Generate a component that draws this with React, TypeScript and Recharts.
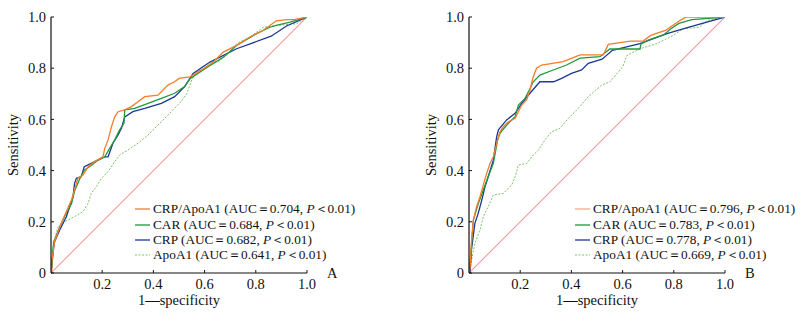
import React from "react";
import { LineChart, Line, XAxis, YAxis } from "recharts";

// ─── Data ─────────────────────────────────────────────────────────────────────

const seriesNames = ["CRP/ApoA1", "CAR", "CRP", "ApoA1"];
const xTicks = [0.2, 0.4, 0.6, 0.8, 1.0];
const yTicks = [0, 0.2, 0.4, 0.6, 0.8, 1.0];
const diagX = [0, 1];
const diagY = [0, 1];

// panel A
const aucA = ["0.704", "0.684", "0.682", "0.641"];
const ratioAx = [0, 0.003, 0.003, 0.014, 0.034, 0.06, 0.08, 0.092, 0.105, 0.125, 0.145, 0.17, 0.203, 0.21, 0.223, 0.236, 0.249, 0.262, 0.288, 0.314, 0.34, 0.366, 0.418, 0.4375, 0.457, 0.483, 0.5, 0.543, 0.595, 0.634, 0.673, 0.725, 0.777, 0.829, 0.855, 0.88, 0.92, 0.95, 1.0];
const ratioAy = [0, 0, 0.044, 0.122, 0.18, 0.24, 0.285, 0.324, 0.37, 0.383, 0.415, 0.435, 0.454, 0.487, 0.52, 0.571, 0.61, 0.63, 0.637, 0.65, 0.669, 0.689, 0.695, 0.715, 0.734, 0.747, 0.76, 0.766, 0.798, 0.824, 0.863, 0.889, 0.922, 0.948, 0.967, 0.985, 0.99, 0.99, 1.0];
const carAx = [0, 0.005, 0.01, 0.034, 0.06, 0.08, 0.092, 0.11, 0.13, 0.157, 0.184, 0.21, 0.229, 0.249, 0.268, 0.285, 0.288, 0.327, 0.379, 0.431, 0.483, 0.522, 0.543, 0.621, 0.673, 0.725, 0.803, 0.855, 0.88, 0.934, 1.0];
const carAy = [0, 0.04, 0.12, 0.18, 0.235, 0.27, 0.32, 0.363, 0.402, 0.42, 0.441, 0.454, 0.487, 0.52, 0.559, 0.585, 0.637, 0.643, 0.663, 0.682, 0.702, 0.728, 0.759, 0.811, 0.843, 0.889, 0.935, 0.96, 0.967, 0.98, 1.0];
const crpAx = [0, 0.008, 0.014, 0.034, 0.06, 0.073, 0.086, 0.092, 0.099, 0.118, 0.13, 0.157, 0.184, 0.21, 0.223, 0.242, 0.262, 0.275, 0.288, 0.32, 0.366, 0.431, 0.483, 0.522, 0.555, 0.621, 0.725, 0.86, 0.92, 1.0];
const crpAy = [0, 0.083, 0.122, 0.168, 0.22, 0.259, 0.298, 0.35, 0.37, 0.376, 0.415, 0.428, 0.441, 0.454, 0.454, 0.507, 0.539, 0.565, 0.61, 0.63, 0.643, 0.663, 0.689, 0.728, 0.779, 0.824, 0.876, 0.925, 0.965, 1.0];
const apoAx = [0, 0.008, 0.027, 0.053, 0.092, 0.125, 0.145, 0.157, 0.177, 0.197, 0.223, 0.249, 0.268, 0.3, 0.34, 0.379, 0.418, 0.457, 0.504, 0.53, 0.55, 0.569, 0.595, 0.66, 0.699, 0.725, 0.777, 0.829, 0.88, 0.96, 1.0];
const apoAy = [0, 0.103, 0.18, 0.2, 0.22, 0.24, 0.272, 0.311, 0.337, 0.37, 0.396, 0.435, 0.461, 0.48, 0.507, 0.539, 0.578, 0.617, 0.665, 0.7, 0.754, 0.786, 0.798, 0.83, 0.863, 0.896, 0.922, 0.96, 0.967, 0.974, 1.0];

// panel B
const aucB = ["0.796", "0.783", "0.778", "0.669"];
const ratioBx = [0, 0.004, 0.01, 0.017, 0.03, 0.043, 0.056, 0.069, 0.082, 0.095, 0.105, 0.115, 0.121, 0.134, 0.154, 0.18, 0.193, 0.206, 0.225, 0.238, 0.251, 0.264, 0.284, 0.368, 0.434, 0.525, 0.544, 0.63, 0.68, 0.71, 0.77, 0.798, 0.83, 0.85, 1.0];
const ratioBy = [0, 0.02, 0.129, 0.207, 0.26, 0.298, 0.344, 0.389, 0.428, 0.454, 0.493, 0.533, 0.552, 0.572, 0.591, 0.604, 0.63, 0.656, 0.676, 0.715, 0.767, 0.8, 0.8125, 0.826, 0.852, 0.852, 0.893, 0.906, 0.906, 0.928, 0.949, 0.969, 0.99, 1.0, 1.0];
const carBx = [0, 0.007, 0.017, 0.036, 0.056, 0.075, 0.095, 0.112, 0.121, 0.147, 0.18, 0.193, 0.219, 0.238, 0.251, 0.277, 0.329, 0.381, 0.434, 0.512, 0.55, 0.668, 0.672, 0.7, 0.76, 0.79, 0.82, 0.87, 1.0];
const carBy = [0, 0.077, 0.207, 0.27, 0.324, 0.376, 0.428, 0.52, 0.546, 0.578, 0.61, 0.656, 0.682, 0.72, 0.747, 0.773, 0.793, 0.8125, 0.839, 0.845, 0.875, 0.875, 0.895, 0.91, 0.93, 0.955, 0.975, 0.99, 1.0];
const crpBx = [0, 0.004, 0.01, 0.023, 0.036, 0.05, 0.0625, 0.075, 0.095, 0.108, 0.115, 0.147, 0.18, 0.206, 0.238, 0.277, 0.33, 0.362, 0.4, 0.44, 0.466, 0.52, 0.56, 0.668, 0.773, 0.863, 1.0];
const crpBy = [0, 0.002, 0.094, 0.194, 0.233, 0.285, 0.337, 0.376, 0.441, 0.532, 0.559, 0.598, 0.624, 0.663, 0.702, 0.747, 0.747, 0.76, 0.78, 0.793, 0.819, 0.835, 0.87, 0.896, 0.935, 0.961, 1.0];
const apoBx = [0, 0.004, 0.01, 0.023, 0.043, 0.056, 0.075, 0.095, 0.134, 0.167, 0.18, 0.193, 0.225, 0.251, 0.271, 0.297, 0.323, 0.355, 0.388, 0.427, 0.466, 0.518, 0.55, 0.6, 0.617, 0.668, 0.734, 0.797, 0.836, 0.9, 0.93, 1.0];
const apoBy = [0, 0.005, 0.05, 0.116, 0.168, 0.22, 0.259, 0.305, 0.311, 0.344, 0.376, 0.422, 0.428, 0.461, 0.48, 0.52, 0.552, 0.565, 0.604, 0.643, 0.689, 0.734, 0.746, 0.805, 0.85, 0.876, 0.896, 0.928, 0.954, 0.96, 0.987, 1.0];

// ─── Styles ───────────────────────────────────────────────────────────────────

const FONT = "'Liberation Serif', 'Times New Roman', serif";
const lineColors = ["#f47c2c", "#1f9a3c", "#1d3892", "#7dc266"];
const lineDash = [undefined, undefined, undefined, "2 1.5"];
const lineWidths = [1.3, 1.3, 1.3, 1];

const zip = (xs: number[], ys: number[]) => xs.map((x, i) => ({ x, y: ys[i] }));

interface PanelProps {
  left: number;
  width: number;
  plotLeft: number;
  letter: string;
  auc: string[];
  curves: { x: number; y: number }[][];
  legendLeft: number;
  legendColors: string[];
}

const PLOT = 256;
const TOP = 17;

const Panel: React.FC<PanelProps> = ({ left, width, plotLeft, letter, auc, curves, legendLeft, legendColors }) => {
  const yAxisW = 51;
  const rows = [209, 224.5, 239.5, 255];
  return (
    <div style={{ position: "absolute", left, top: 0, width, height: 314 }}>
      <LineChart
        width={width}
        height={314}
        margin={{ top: TOP, left: plotLeft - yAxisW, right: width - plotLeft - PLOT, bottom: 11 }}
      >
        <XAxis
          type="number"
          dataKey="x"
          domain={[0, 1]}
          ticks={xTicks}
          tickFormatter={(v: number) => v.toFixed(1)}
          height={30}
          allowDataOverflow
          axisLine={{ stroke: "#111", strokeWidth: 1.2 }}
          tickLine={{ stroke: "#111" }}
          tickSize={-3}
          tickMargin={9}
          tick={{ fill: "#111", fontSize: 14.5, fontFamily: FONT }}
        />
        <YAxis
          type="number"
          dataKey="y"
          domain={[0, 1]}
          ticks={yTicks}
          tickFormatter={(v: number) => (v === 0 ? "0" : v.toFixed(1))}
          width={yAxisW}
          allowDataOverflow
          axisLine={{ stroke: "#111", strokeWidth: 1.2 }}
          tickLine={{ stroke: "#111" }}
          tickSize={-3}
          tickMargin={8}
          tick={{ fill: "#111", fontSize: 14.5, fontFamily: FONT }}
        />
        {/* chance diagonal */}
        <Line
          data={zip(diagX, diagY)}
          dataKey="y"
          type="linear"
          stroke="#f29a9a"
          strokeWidth={1.1}
          dot={false}
          activeDot={false}
          isAnimationActive={false}
        />
        {/* ApoA1 drawn first so the other curves sit on top */}
        {[3, 2, 1, 0].map((i) => (
          <Line
            key={seriesNames[i]}
            data={curves[i]}
            dataKey="y"
            type="linear"
            stroke={lineColors[i]}
            strokeWidth={lineWidths[i]}
            strokeDasharray={lineDash[i]}
            dot={false}
            activeDot={false}
            isAnimationActive={false}
          />
        ))}
      </LineChart>

      {/* Legend */}
      {seriesNames.map((name, i) => (
        <div
          key={name}
          style={{
            position: "absolute",
            left: legendLeft,
            top: rows[i] - 8,
            height: 16,
            display: "flex",
            alignItems: "center",
            fontFamily: FONT,
            fontSize: 13.3,
            color: "#111",
            whiteSpace: "nowrap",
          }}
        >
          <svg width={16} height={4} style={{ marginRight: 2 }}>
            <line
              x1={0}
              x2={15}
              y1={2}
              y2={2}
              stroke={legendColors[i]}
              strokeWidth={i === 3 ? 1 : 1.3}
              strokeDasharray={lineDash[i]}
            />
          </svg>
          <span>
            {name} (AUC＝{auc[i]}, <i>P</i>＜0.01)
          </span>
        </div>
      ))}

      {/* Axis titles */}
      <div
        style={{
          position: "absolute",
          left: plotLeft - 38 - 40,
          top: 145 - 9,
          width: 80,
          textAlign: "center",
          transform: "rotate(-90deg)",
          fontFamily: FONT,
          fontSize: 14.5,
          lineHeight: "18px",
          color: "#111",
        }}
      >
        Sensitivity
      </div>
      <div
        style={{
          position: "absolute",
          left: plotLeft + PLOT / 2 - 60,
          top: 292,
          width: 120,
          textAlign: "center",
          fontFamily: FONT,
          fontSize: 14.5,
          lineHeight: "16px",
          color: "#111",
        }}
      >
        1<b>—</b>specificity
      </div>
      <div
        style={{
          position: "absolute",
          left: plotLeft + PLOT + 20,
          top: 265,
          fontFamily: FONT,
          fontSize: 14.5,
          lineHeight: "16px",
          color: "#111",
        }}
      >
        {letter}
      </div>
    </div>
  );
};

export default function App() {
  const curvesA = [zip(ratioAx, ratioAy), zip(carAx, carAy), zip(crpAx, crpAy), zip(apoAx, apoAy)];
  const curvesB = [zip(ratioBx, ratioBy), zip(carBx, carBy), zip(crpBx, crpBy), zip(apoBx, apoBy)];
  return (
    <div style={{ position: "absolute", left: 0, top: 0, width: 806, height: 314, background: "#fff", overflow: "hidden" }}>
      <Panel
        left={0}
        width={400}
        plotLeft={51}
        letter="A"
        auc={aucA}
        curves={curvesA}
        legendLeft={135}
        legendColors={lineColors}
      />
      <Panel
        left={403}
        width={403}
        plotLeft={66}
        letter="B"
        auc={aucB}
        curves={curvesB}
        legendLeft={172}
        legendColors={["#f5aa8c", lineColors[1], lineColors[2], lineColors[3]]}
      />
    </div>
  );
}
